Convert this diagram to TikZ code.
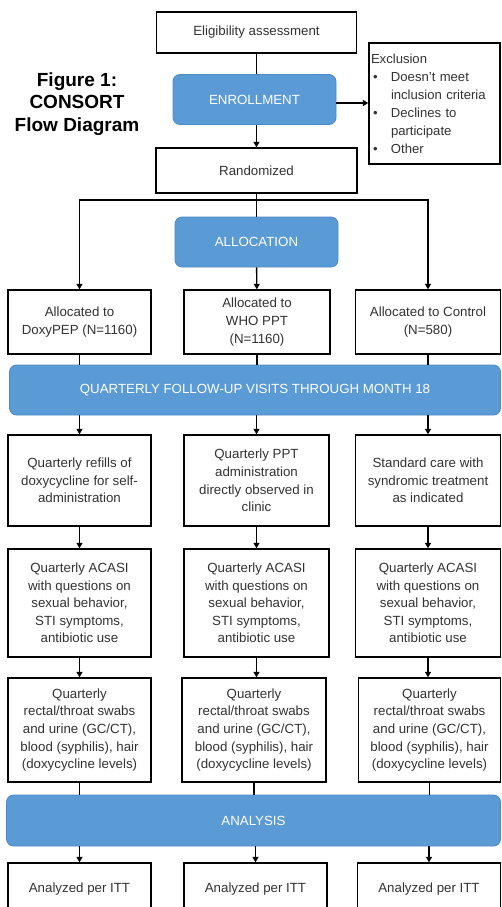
\documentclass[tikz,border=0pt]{standalone}
\usepackage{fontspec}
\setmainfont{Liberation Sans}
\usetikzlibrary{arrows.meta}
\definecolor{bannerblue}{HTML}{5B9BD5}
\definecolor{bannerline}{HTML}{4A88C6}
\definecolor{boxtext}{HTML}{333333}
\begin{document}
\begin{tikzpicture}[x=1pt,y=-1pt,
  box/.style={draw=black, line width=1.4pt, fill=white, align=center, text=boxtext,
    font=\fontsize{13.3}{17.6}\selectfont, inner sep=0pt},
  banner/.style={fill=bannerblue, draw=bannerline, line width=0.8pt, rounded corners=7pt,
    text=white, font=\fontsize{13.3}{16}\selectfont, inner sep=0pt},
  conn/.style={line width=1.4pt},
  arr/.style={conn, -{Triangle[length=5.5pt,width=6pt]}},
]
\useasboundingbox (0,0) rectangle (502,907);

% title
\node[align=center, font=\fontsize{19}{22.5}\bfseries] (title) at (77,104) {Figure 1:\\CONSORT\\Flow Diagram};

% top part
\node[box, minimum width=200pt, minimum height=41pt] (elig) at (256.5,32.5) {Eligibility assessment};
\node[banner, minimum width=163pt, minimum height=50pt] (enr) at (254.5,99.5) {ENROLLMENT};
\node[box, minimum width=131pt, minimum height=121pt, text width=127pt, align=left, inner xsep=2pt,
      font=\fontsize{13.1}{18}\selectfont] (excl) at (434.5,103.5)
  {Exclusion\\
   \hspace*{2pt}\makebox[18pt][l]{\textbullet}Doesn’t meet\\
   \hspace*{20pt}inclusion criteria\\
   \hspace*{2pt}\makebox[18pt][l]{\textbullet}Declines to\\
   \hspace*{20pt}participate\\
   \hspace*{2pt}\makebox[18pt][l]{\textbullet}Other};
\node[box, minimum width=201pt, minimum height=45pt] (rand) at (256.5,170.5) {Randomized};
\node[banner, minimum width=163pt, minimum height=50pt] (alloc) at (256.5,242) {ALLOCATION};

% allocated row
\node[box, minimum width=143pt, minimum height=64pt] (a1) at (79.5,322) {Allocated to\\DoxyPEP (N=1160)};
\node[box, minimum width=146pt, minimum height=64pt] (a2) at (257,322) {Allocated to\\WHO PPT\\(N=1160)};
\node[box, minimum width=145pt, minimum height=64pt] (a3) at (428,322) {Allocated to Control\\(N=580)};

\node[banner, minimum width=491pt, minimum height=50pt] (fu) at (255,390) {QUARTERLY FOLLOW-UP VISITS THROUGH MONTH 18};

% row b
\node[box, minimum width=143pt, minimum height=91pt] (b1) at (79.5,480.5) {Quarterly refills of\\doxycycline for self-\\administration};
\node[box, minimum width=145pt, minimum height=91pt] (b2) at (256.5,480.5) {Quarterly PPT\\administration\\directly observed in\\clinic};
\node[box, minimum width=145pt, minimum height=91pt] (b3) at (428,480.5) {Standard care with\\syndromic treatment\\as indicated};

% row c
\node[box, minimum width=143pt, minimum height=108pt] (c1) at (79.5,603) {Quarterly ACASI\\with questions on\\sexual behavior,\\STI symptoms,\\antibiotic use};
\node[box, minimum width=145pt, minimum height=108pt] (c2) at (256.5,603) {Quarterly ACASI\\with questions on\\sexual behavior,\\STI symptoms,\\antibiotic use};
\node[box, minimum width=145pt, minimum height=108pt] (c3) at (428,603) {Quarterly ACASI\\with questions on\\sexual behavior,\\STI symptoms,\\antibiotic use};

% row d
\node[box, minimum width=143pt, minimum height=104pt] (d1) at (79.5,730) {Quarterly\\rectal/throat swabs\\and urine (GC/CT),\\blood (syphilis), hair\\(doxycycline levels)};
\node[box, minimum width=144pt, minimum height=104pt] (d2) at (254,730) {Quarterly\\rectal/throat swabs\\and urine (GC/CT),\\blood (syphilis), hair\\(doxycycline levels)};
\node[box, minimum width=142pt, minimum height=104pt] (d3) at (429.5,730) {Quarterly\\rectal/throat swabs\\and urine (GC/CT),\\blood (syphilis), hair\\(doxycycline levels)};

\node[banner, minimum width=494pt, minimum height=51pt] (an) at (253.5,820.5) {ANALYSIS};

% row e
\node[box, minimum width=143pt, minimum height=52pt] (e1) at (79.5,889) {Analyzed per ITT};
\node[box, minimum width=143pt, minimum height=52pt] (e2) at (255.5,889) {Analyzed per ITT};
\node[box, minimum width=143pt, minimum height=52pt] (e3) at (429,889) {Analyzed per ITT};

% connectors
\draw[conn] (elig.south) -- (elig.south |- enr.north);
\draw[arr] (enr.south -| rand.north) -- (rand.north);
\coordinate (exy) at (340,103);
\draw[arr] (enr.east |- exy) -- (excl.west |- exy);
\draw[conn] (rand) -- (alloc);
\coordinate (split) at (256.5,200);
\draw[arr] (split) -| (a1.north);
\draw[arr] (split) -| (a3.north);
\draw[arr] (alloc) -- (a2);
\foreach \n in {a1,a2,a3} \draw[conn] (\n.south) -- (\n.south |- fu.north);
\foreach \n in {b1,b2,b3} \draw[arr] (fu.south -| \n.north) -- (\n.north);
\draw[arr] (b1) -- (c1);
\draw[arr] (b2) -- (c2);
\draw[arr] (b3) -- (c3);
\foreach \u/\v in {c1/d1,c2/d2,c3/d3} \draw[arr] (\u.south) -- (\u.south |- \v.north);
\foreach \n in {d1,d2,d3} \draw[conn] (\n.south) -- (\n.south |- an.north);
\foreach \n in {e1,e2,e3} \draw[arr] (an.south -| \n.north) -- (\n.north);
\end{tikzpicture}
\end{document}
